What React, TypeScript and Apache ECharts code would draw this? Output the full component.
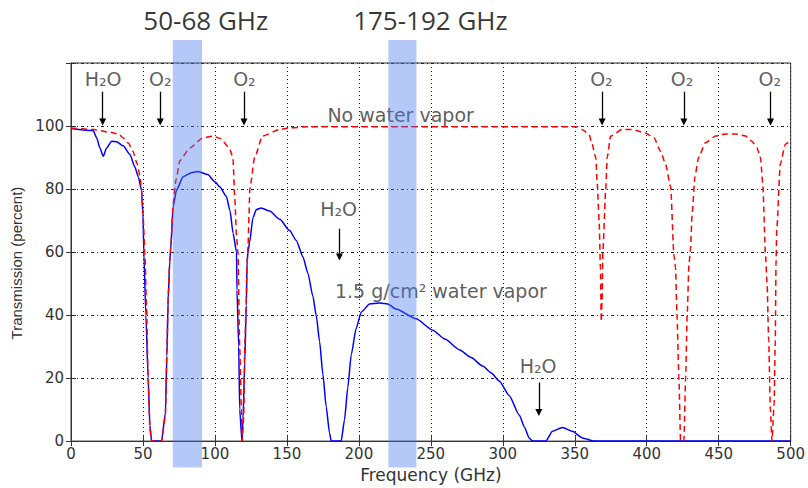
import React, { useEffect, useRef } from "react";
import * as echarts from "echarts";

// ---- Axis ticks ----
const xTickStep = 50;
const xMin = 0;
const xMax = 500;
const yTickStep = 20;
const yMin = 0;
const yMax = 120;
const yLabelMax = 100;

// ---- 1.5 g/cm² water vapor (blue, solid) ----
const wetFreq = [
  0, 15.5, 17.8, 20.1, 22.4, 24.7, 28.2, 31.7, 36.3, 40.9, 44.4, 46.7, 49, 50, 50.6, 52, 53.6, 54.8, 56,
  62.9, 65.6, 66.6, 67.5, 68.6, 69.1, 71, 73.3, 77.9, 83.7, 88.3, 95, 100, 103.3, 108, 110.5, 112.6, 115,
  115.3, 116.5, 117.2, 118.8, 119.5, 120.7, 121.8, 122.3, 123, 124.1, 126.4, 128.8, 132.2, 138, 145, 151.9,
  156.5, 161.1, 164.6, 168, 170.4, 172.7, 175, 177.3, 179.6, 180.8, 187.7, 190, 192.3, 194.7, 198.1, 201.6,
  207.4, 214.3, 220, 225.9, 239.7, 251.3, 260, 269.8, 278, 286, 292, 297.5, 304.4, 311.4, 315, 318.3, 320.6,
  329.9, 334.5, 341.4, 348.3, 355.3, 363.4, 500,
];
const wetTrans = [
  99.2, 98.5, 96.3, 93, 90.4, 93, 95.2, 95, 93.7, 91, 87, 83.9, 79.7, 72, 60, 40, 20, 5, 0,
  0, 9, 27, 45, 57, 60, 74.5, 79.7, 83.9, 85.2, 85.6, 84.6, 82.3, 80.7, 77.6, 73, 66, 60,
  48, 30, 10, 0, 7, 25, 43, 57, 60, 63.1, 70.9, 73.5, 74, 73, 70.4, 66.8,
  63.7, 58.5, 53.3, 46.1, 39.8, 31.6, 21.2, 10.9, 2.6, 0, 0, 6.7, 17, 27.4, 35.7, 40.9,
  43.5, 43.8, 43.5, 41.9, 38.8, 35.2, 32.3, 29, 26.5, 23.8, 21.6, 19.1, 14.5, 8.3, 4.5, 1, 0,
  0, 3.1, 4.3, 3.1, 1, 0, 0,
];

// ---- No water vapor (red, dashed) ----
const dryFreq = [
  0, 15.5, 26, 33, 36, 40, 43, 46, 48, 49, 50, 51.3, 52.5, 53.6, 54.8, 56, 62.9, 65.6, 66.6, 67.5, 68.6,
  69.5, 71, 73, 75.6, 82.5, 91.6, 98.6, 104, 110, 112.5, 113.7, 115, 116, 117.2, 118.4, 119, 120, 120.7,
  121.8, 122.3, 123, 123.7, 124.2, 127.6, 133, 145, 152, 165, 350.7, 355, 360, 362, 364.6, 365.6, 367,
  367.8, 368.4, 369, 369.5, 371.5, 372.5, 374.9, 383, 390, 399, 405, 409.6, 413, 416.6, 418.9, 420, 421,
  422.3, 423.5, 425.8, 427, 428.1, 429.3, 430.4, 431.5, 433.5, 436, 440.8, 447.8, 454.7, 461.6, 468.6,
  473, 476.5, 479, 480.6, 482.5, 483.6, 484.7, 485.9, 487, 488.5, 489.3, 489.8, 490.3, 492.8, 496.3, 500,
];
const dryTrans = [
  99.4, 98.9, 98.1, 97.5, 96.3, 94.5, 92, 88, 84, 79.7, 72, 60, 42, 20, 4, 0, 0, 8, 28, 46, 57,
  63, 75.6, 83, 89, 93, 96.2, 96.8, 96, 93, 90, 78, 65, 60, 30, 10, 0, 8, 30,
  45, 56, 62, 72, 80, 90, 96.8, 98.9, 99.4, 99.8, 99.8, 98.9, 97.3, 94.2, 90, 81.8, 69,
  55, 38, 45, 60, 79.8, 90, 96.8, 98.9, 98.9, 97.8, 96.3, 92, 88, 80.7, 59, 55, 40,
  20.7, 0, 0, 20, 40, 56, 61, 72, 84, 90, 94.7, 96.8, 97.5, 97.5, 96.8,
  95.2, 93.2, 90, 81.8, 59, 50, 32, 10, 0, 12, 32, 56, 67, 88, 94.2, 95.5,
];

// ---- Highlighted bands ----
const bandFrom = [70.7, 220.5];
const bandTo = [91, 240];
const bandBottom = -8.4;
const bandTop = 127.3;
const bandNames = ["50-68 GHz", "175-192 GHz"];
const bandNameFreq = [93.6, 249.7];
const bandNameLevel = 133.5;

// ---- Absorption line markers ----
const lineNames = ["H₂O", "O₂", "O₂", "O₂", "O₂", "O₂", "H₂O", "H₂O"];
const lineFreq = [22, 62, 120.2, 369, 425.8, 486, 186.5, 325];
const lineTextFreq = [22.3, 62, 120.5, 368.5, 424.5, 485.5, 185.9, 324.5];
const lineTextLevel = [114.9, 114.9, 114.9, 114.9, 114.9, 114.9, 73.6, 23.9];
const arrowFrom = [110.9, 110.9, 110.9, 110.9, 110.9, 110.9, 67.4, 18.6];
const arrowTo = [101.3, 101.3, 101.3, 101.3, 101.3, 101.3, 58.4, 9.1];

// ---- Curve captions ----
const captionTexts = ["No water vapor", "1.5 g/cm² water vapor"];
const captionFreq = [229, 257];
const captionLevel = [103.4, 47.5];

const AXIS_FONT = "'DejaVu Sans', Verdana, sans-serif";
const INK = "#333";

export default function App() {
  const ref = useRef<HTMLDivElement>(null);

  useEffect(() => {
    if (!ref.current) return;
    const chart = echarts.init(ref.current, undefined, { renderer: "svg" });

    const wetData = wetFreq.map((f, i) => [f, wetTrans[i]]);
    const dryData = dryFreq.map((f, i) => [f, dryTrans[i]]);

    const textItems: any[] = [];
    lineNames.forEach((n, i) =>
      textItems.push({ value: [lineTextFreq[i], lineTextLevel[i]], name: n })
    );
    captionTexts.forEach((n, i) =>
      textItems.push({ value: [captionFreq[i], captionLevel[i]], name: n })
    );

    const bandLabelItems = bandNames.map((n, i) => ({
      value: [bandNameFreq[i], bandNameLevel],
      name: n,
    }));
    const bandRects = bandFrom.map((b, i) => [b, bandTo[i], bandBottom, bandTop]);

    const option: any = {
      animation: false,
      backgroundColor: "#fff",
      grid: {
        left: 71,
        right: 16,
        top: 63,
        bottom: 38,
        show: true,
        borderColor: INK,
        borderWidth: 1,
        backgroundColor: "transparent",
      },
      xAxis: [
        {
          type: "value",
          min: xMin,
          max: xMax,
          interval: xTickStep,
          name: "Frequency (GHz)",
          nameLocation: "middle",
          nameGap: 19,
          nameTextStyle: { fontFamily: AXIS_FONT, fontSize: 17, color: INK },
          axisLine: { show: true, lineStyle: { color: INK, width: 1 } },
          axisTick: { show: true, inside: true, length: 5, lineStyle: { color: INK } },
          axisLabel: { fontFamily: AXIS_FONT, fontSize: 15, color: INK, margin: 5 },
          splitLine: { show: true, lineStyle: { color: "#111", type: [1, 3], width: 1 } },
        },
        {
          type: "value",
          position: "top",
          min: xMin,
          max: xMax,
          interval: xTickStep,
          axisLine: { show: true, lineStyle: { color: INK, width: 1 } },
          axisTick: { show: true, inside: true, length: 5, lineStyle: { color: INK } },
          axisLabel: { show: false },
          splitLine: { show: false },
        },
      ],
      yAxis: [
        {
          type: "value",
          min: yMin,
          max: yMax,
          interval: yTickStep,
          name: "Transmission (percent)",
          nameLocation: "middle",
          nameGap: 42,
          nameTextStyle: {
            fontFamily: "'Liberation Sans', Arial, sans-serif",
            fontSize: 15,
            color: INK,
            padding: [0, 22, 0, 0],
          },
          axisLine: { show: true, lineStyle: { color: INK, width: 1 } },
          axisTick: { show: true, inside: true, length: 5, lineStyle: { color: INK } },
          axisLabel: {
            fontFamily: AXIS_FONT,
            fontSize: 15,
            color: INK,
            margin: 7,
            formatter: (v: number) => (v > yLabelMax ? "" : String(v)),
          },
          splitLine: { show: true, lineStyle: { color: "#222", type: [3, 3, 1, 3], width: 1 } },
        },
        {
          type: "value",
          position: "right",
          min: yMin,
          max: yMax,
          interval: yTickStep,
          axisLine: { show: true, lineStyle: { color: INK, width: 1 } },
          axisTick: { show: true, inside: true, length: 5, lineStyle: { color: INK } },
          axisLabel: { show: false },
          splitLine: { show: false },
        },
      ],
      series: [
        {
          name: "1.5 g/cm² water vapor",
          type: "line",
          data: wetData,
          showSymbol: false,
          symbol: "none",
          smooth: 0.2,
          smoothMonotone: "x",
          lineStyle: { color: "#0000ff", width: 1.5 },
          z: 3,
        },
        {
          name: "No water vapor",
          type: "line",
          data: dryData,
          showSymbol: false,
          symbol: "none",
          smooth: 0.2,
          smoothMonotone: "x",
          lineStyle: { color: "#ff0000", width: 1.5, type: [6, 4] },
          z: 4,
        },
        {
          name: "labels",
          type: "scatter",
          data: textItems,
          symbolSize: 0,
          clip: false,
          silent: true,
          label: {
            show: true,
            position: "inside",
            formatter: "{b}",
            fontFamily: AXIS_FONT,
            fontSize: 19,
            color: INK,
          },
          markLine: {
            silent: true,
            symbol: ["none", "triangle"],
            symbolSize: 7,
            label: { show: false },
            lineStyle: { color: "#000", width: 1.3, type: "solid" },
            itemStyle: { color: "#000" },
            data: lineFreq.map((f, i) => [
              { coord: [f, arrowFrom[i]] },
              { coord: [f, arrowTo[i]] },
            ]),
          },
          z: 5,
        },
        {
          name: "bands",
          type: "custom",
          data: bandRects,
          clip: false,
          silent: true,
          z: 10,
          renderItem: (params: any, api: any) => {
            const p1 = api.coord([api.value(0), api.value(3)]);
            const p2 = api.coord([api.value(1), api.value(2)]);
            return {
              type: "rect",
              shape: { x: p1[0], y: p1[1], width: p2[0] - p1[0], height: p2[1] - p1[1] },
              style: { fill: "rgba(70,120,240,0.4)" },
            };
          },
        },
        {
          name: "band labels",
          type: "scatter",
          data: bandLabelItems,
          symbolSize: 0,
          clip: false,
          silent: true,
          z: 11,
          label: {
            show: true,
            position: "inside",
            formatter: "{b}",
            fontFamily: "'Open Sans', Lato, sans-serif",
            fontSize: 26,
            color: "#000",
          },
        },
      ],
    };

    chart.setOption(option);
    return () => chart.dispose();
  }, []);

  return (
    <div
      ref={ref}
      style={{ position: "absolute", left: 0, top: 0, width: 808, height: 488 }}
    />
  );
}
